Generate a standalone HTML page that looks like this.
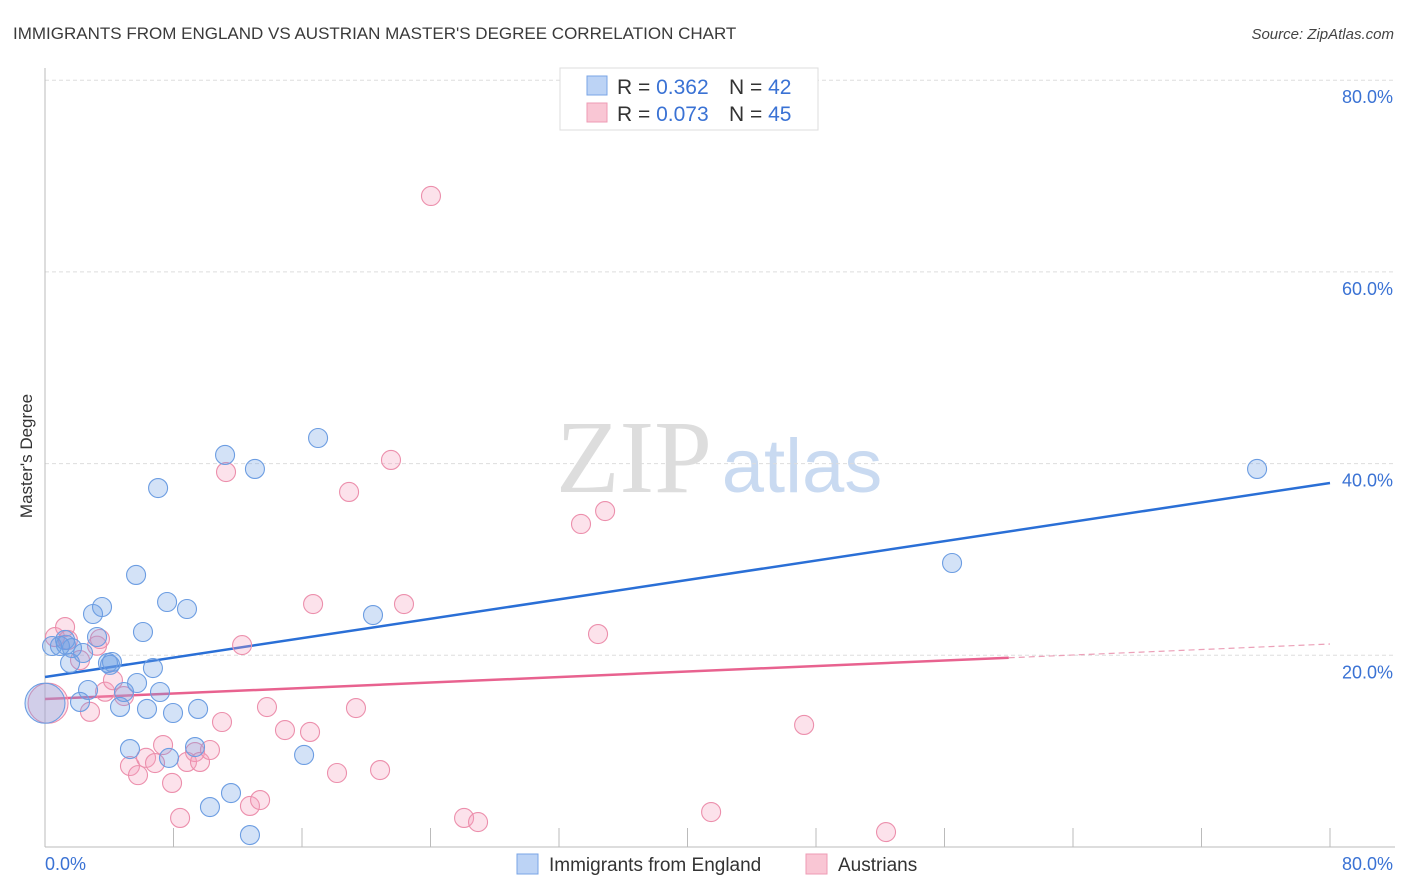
<!DOCTYPE html>
<html><head><meta charset="utf-8"><style>
body{margin:0;background:#fff;font-family:"Liberation Sans",sans-serif;}
svg{display:block}
</style></head><body>
<svg id="chart" width="1406" height="892">
<text x="13" y="39" font-size="17" fill="#3a3a3a">IMMIGRANTS FROM ENGLAND VS AUSTRIAN MASTER'S DEGREE CORRELATION CHART</text>
<text x="1394" y="39" font-size="15" fill="#444" font-style="italic" text-anchor="end">Source: ZipAtlas.com</text>
<text x="32" y="456" font-size="17" fill="#333" text-anchor="middle" transform="rotate(-90 32 456)">Master's Degree</text>
<g>
<text x="634" y="492" font-size="104" fill="#ddd" font-family="Liberation Serif,serif" text-anchor="middle">ZIP</text>
<text x="802" y="492" font-size="76" fill="#c9daf1" text-anchor="middle">atlas</text>
</g>
<g id="grid"></g>
<g id="axes"></g>
<g id="trends"></g>
<g id="pts"></g>
<g>
<rect x="560" y="68" width="258" height="62" fill="#fff" stroke="#ddd"/>
<rect x="587" y="76" width="20" height="19" fill="#bcd3f5" stroke="#7aa5e6"/>
<rect x="587" y="103" width="20" height="19" fill="#f9c6d4" stroke="#ee9bb4"/>
<text x="617" y="94" font-size="21" fill="#333">R = <tspan fill="#3a72d4">0.362</tspan><tspan x="729">N = </tspan><tspan fill="#3a72d4">42</tspan></text>
<text x="617" y="121" font-size="21" fill="#333">R = <tspan fill="#3a72d4">0.073</tspan><tspan x="729">N = </tspan><tspan fill="#3a72d4">45</tspan></text>
</g>
<g>
<rect x="517" y="854" width="21" height="20" fill="#bcd3f5" stroke="#7aa5e6"/>
<text x="549" y="871" font-size="19" fill="#333">Immigrants from England</text>
<rect x="806" y="854" width="21" height="20" fill="#f9c6d4" stroke="#ee9bb4"/>
<text x="838" y="871" font-size="19" fill="#333">Austrians</text>
</g>
</svg>
<script>
const xTickLabels=["0.0%","80.0%"];
const yTicks=[20,40,60,80];
const blueX=[0.44,0.93,1.25,1.68,1.56,2.18,2.37,2.68,2.99,3.24,3.55,3.92,4.17,4.67,4.92,5.29,5.67,5.73,6.1,6.35,6.72,7.04,7.16,7.6,7.72,7.97,8.84,9.34,9.53,10.27,11.21,11.58,12.76,13.07,16.13,17.0,20.42,56.47,75.46,4.05,1.3,0.0];
const blueY=[20.97,20.97,21.6,20.76,19.2,15.13,20.24,16.38,24.31,21.91,25.04,19.2,19.3,14.61,16.17,10.22,28.38,17.11,22.43,14.4,18.67,37.45,16.17,25.56,9.29,13.98,24.83,10.43,14.4,4.17,40.9,5.63,1.25,39.44,9.6,42.67,24.2,29.63,39.44,19.0,21.1,15.0];
const pinkX=[0.19,0.62,1.25,1.43,2.18,2.8,3.24,3.42,3.74,4.23,4.92,5.29,5.79,6.29,6.85,7.35,7.91,8.41,8.84,9.34,9.65,10.27,11.02,11.27,12.27,12.76,13.39,13.82,14.94,16.5,16.69,18.18,18.93,19.36,20.86,21.54,22.35,24.03,26.09,26.96,33.37,34.43,34.87,41.47,47.26,52.36];
const pinkY=[15.0,21.9,22.95,21.6,19.5,14.1,21.0,21.7,16.2,17.4,15.75,8.45,7.5,9.3,8.76,10.64,6.68,3.03,8.87,9.91,8.87,10.12,13.04,39.12,21.07,4.28,4.9,14.6,12.2,12.0,25.35,7.72,37.04,14.5,8.03,40.38,25.35,67.92,3.03,2.6,33.7,22.22,35.05,3.65,12.73,1.56];
const blueTrend=[17.74,0.253];
const pinkTrend=[15.44,0.0717];
const pinkSolidEnd=60;
const NS="http://www.w3.org/2000/svg";
const X0=45,X1=1330,Y0=847,PY=191.7/20;
const sx=v=>X0+(v/80)*(X1-X0), sy=v=>Y0-v*PY;
function mk(t,a,p){const e=document.createElementNS(NS,t);for(const k in a)e.setAttribute(k,a[k]);p.appendChild(e);return e;}
const grid=document.getElementById('grid'),axes=document.getElementById('axes'),tr=document.getElementById('trends'),pts=document.getElementById('pts');
yTicks.forEach(v=>{
 const l=mk('line',{x1:X0,x2:1393,y1:sy(v),y2:sy(v),stroke:'#ddd','stroke-dasharray':'4 3'},grid);
 
 
 const t=mk('text',{x:1393,y:sy(v)+23,'font-size':18,fill:'#3a72d4','text-anchor':'end'},grid);t.textContent=v.toFixed(1)+'%';
 
 
});
let ax=mk('line',{x1:X0,x2:X0,y1:68,y2:Y0,stroke:'#bbb'},axes);


let bx=mk('line',{x1:X0,x2:1395,y1:Y0,y2:Y0,stroke:'#bbb'},axes);


for(let i=1;i<=10;i++){const v=i*8;const t=mk('line',{x1:sx(v),x2:sx(v),y1:828,y2:Y0,stroke:'#bbb'},axes);
 
 }
[[0,'start',45],[80,'end',1393]].forEach((d,i)=>{const t=mk('text',{x:d[2],y:870,'font-size':18,fill:'#3a72d4','text-anchor':d[1]},axes);t.textContent=xTickLabels[i];
 
 });
function dot(x,y,big,c,f,name){const e=mk('circle',{cx:sx(x),cy:sy(y),r:big?20:9.5,fill:f,stroke:c,'stroke-width':1.1},pts);
 
 }
pinkX.forEach((x,i)=>dot(x,pinkY[i],i===0,'#ec8fac','rgba(244,160,188,0.3)','austrians-point'));
blueX.forEach((x,i)=>dot(x,blueY[i],i===blueX.length-1,'#6c9de2','rgba(110,160,230,0.3)','england-point'));
let bl=mk('line',{x1:sx(0),y1:sy(blueTrend[0]),x2:sx(80),y2:sy(blueTrend[0]+80*blueTrend[1]),stroke:'#2a6fd6','stroke-width':2.5},tr);


let pl=mk('line',{x1:sx(0),y1:sy(pinkTrend[0]),x2:sx(pinkSolidEnd),y2:sy(pinkTrend[0]+pinkSolidEnd*pinkTrend[1]),stroke:'#e8628f','stroke-width':2.5},tr);


let pd=mk('line',{x1:sx(pinkSolidEnd),y1:sy(pinkTrend[0]+pinkSolidEnd*pinkTrend[1]),x2:sx(80),y2:sy(pinkTrend[0]+80*pinkTrend[1]),stroke:'#eca0b8','stroke-width':1.2,'stroke-dasharray':'6 4'},tr);


</script>
</body></html>
